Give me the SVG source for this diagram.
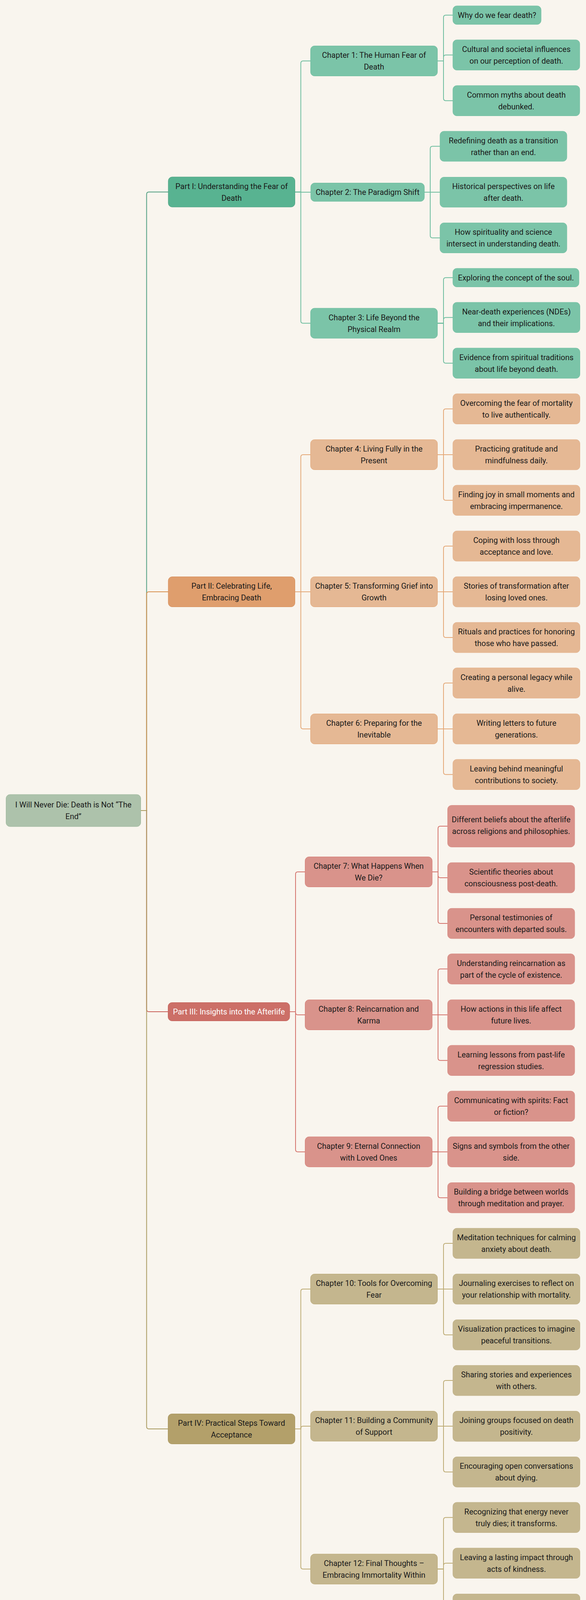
<svg xmlns="http://www.w3.org/2000/svg" width="1501" height="4203" viewBox="0 0 1501 4203">
<style>
.bg{fill:#f9f5ee}
rect.n{rx:10px;ry:10px;stroke-width:1}
.t{font-family:Roboto,"Liberation Sans",sans-serif;font-size:20px;fill:#1a1a1a;text-anchor:middle;dominant-baseline:central}
.tw{fill:#ffffff}
.root{fill:#adc2ab;stroke:#9db79a}
.p1{fill:#58b391;stroke:#4c9f80}
.c1{fill:#7bc4a8;stroke:#6cbb9c}
.l1{fill:#7bc4a8;stroke:#74c0a3}
.p2{fill:#df9e6d;stroke:#d48b57}
.c2{fill:#e5b894;stroke:#e2a574}
.l2{fill:#e5b894;stroke:#e3b18b}
.p3{fill:#cc6f67;stroke:#c35f58}
.c3{fill:#d9938b;stroke:#d47a72}
.l3{fill:#d9938b;stroke:#d78c84}
.p4{fill:#b3a06a;stroke:#a8955d}
.c4{fill:#c4b68e;stroke:#b9a874}
.l4{fill:#c4b68e;stroke:#bfb086}
path{fill:none;stroke-width:2}
.e1a{stroke:#4f9e80}.e1{stroke:#6dbd9e}
.e2a{stroke:#d8904f}.e2{stroke:#e4a877}
.e3a{stroke:#c9605a}.e3{stroke:#d4736c}
.e4a{stroke:#a99a5f}.e4{stroke:#bdab74}
</style>
<rect class="bg" x="0" y="0" width="1501" height="4203"/>
<g id="connectors">
<path class="e1a" d="M360.5 2075 H375.5 V497.5 Q375.5 491.5 381.5 491.5 H431"/>
<path class="e2a" d="M360.5 2075 H375.5 V1521 Q375.5 1515 381.5 1515 H431"/>
<path class="e3a" d="M360.5 2075 H375.5 V2584 Q375.5 2590 381.5 2590 H430.5"/>
<path class="e4a" d="M360.5 2075 H375.5 V3652 Q375.5 3658 381.5 3658 H430.5"/>
<path class="e1" d="M755.5 491.5 H770.5 V162 Q770.5 156 776.5 156 H795.5"/>
<path class="e1" d="M755.5 492 H796"/>
<path class="e1" d="M755.5 491.5 H770.5 V821.5 Q770.5 827.5 776.5 827.5 H795.5"/>
<path class="e1" d="M1120.5 156 H1136 V44.75 Q1136 38.75 1142 38.75 H1160"/>
<path class="e1" d="M1120.5 156 H1136 V146.75 Q1136 140.75 1142 140.75 H1160"/>
<path class="e1" d="M1120.5 156 H1136 V251.75 Q1136 257.75 1142 257.75 H1160"/>
<path class="e1" d="M1087 492 H1102 V380.5 Q1102 374.5 1108 374.5 H1127"/>
<path class="e1" d="M1087 492 H1127"/>
<path class="e1" d="M1087 492 H1102 V603 Q1102 609 1108 609 H1127"/>
<path class="e1" d="M1120.5 827.5 H1136 V716.75 Q1136 710.75 1142 710.75 H1160"/>
<path class="e1" d="M1120.5 827.5 H1136 V818.75 Q1136 812.75 1142 812.75 H1160"/>
<path class="e1" d="M1120.5 827.5 H1136 V923.75 Q1136 929.75 1142 929.75 H1160"/>
<path class="e2" d="M755.5 1515 H770.5 V1170 Q770.5 1164 776.5 1164 H795.5"/>
<path class="e2" d="M755.5 1515 H795.5"/>
<path class="e2" d="M755.5 1515 H770.5 V1860 Q770.5 1866 776.5 1866 H795.5"/>
<path class="e2" d="M1120.5 1164 H1136 V1052.75 Q1136 1046.75 1142 1046.75 H1160"/>
<path class="e2" d="M1120.5 1164 H1160"/>
<path class="e2" d="M1120.5 1164 H1136 V1274.75 Q1136 1280.75 1142 1280.75 H1160"/>
<path class="e2" d="M1120.5 1515 H1136 V1404 Q1136 1398 1142 1398 H1160"/>
<path class="e2" d="M1120.5 1515 H1160"/>
<path class="e2" d="M1120.5 1515 H1136 V1626 Q1136 1632 1142 1632 H1160"/>
<path class="e2" d="M1120.5 1866 H1136 V1754.5 Q1136 1748.5 1142 1748.5 H1160"/>
<path class="e2" d="M1120.5 1866 H1160"/>
<path class="e2" d="M1120.5 1866 H1136 V1976.75 Q1136 1982.75 1142 1982.75 H1160"/>
<path class="e3" d="M742 2590 H757 V2238 Q757 2232 763 2232 H781.5"/>
<path class="e3" d="M742 2590 H757 V2592 Q757 2598 763 2598 H781.5"/>
<path class="e3" d="M742 2590 H757 V2942.7 Q757 2948.7 763 2948.7 H781.5"/>
<path class="e3" d="M1107 2232 H1122 V2121 Q1122 2115 1128 2115 H1146.5"/>
<path class="e3" d="M1107 2232 H1122 V2241 Q1122 2247 1128 2247 H1146.5"/>
<path class="e3" d="M1107 2232 H1122 V2358 Q1122 2364 1128 2364 H1146.5"/>
<path class="e3" d="M1107 2598 H1122 V2486.5 Q1122 2480.5 1128 2480.5 H1146.5"/>
<path class="e3" d="M1107 2598 H1146.5"/>
<path class="e3" d="M1107 2598 H1122 V2708.75 Q1122 2714.75 1128 2714.75 H1146.5"/>
<path class="e3" d="M1107 2948.7 H1122 V2837.75 Q1122 2831.75 1128 2831.75 H1146.5"/>
<path class="e3" d="M1107 2948.7 H1146.5"/>
<path class="e3" d="M1107 2948.7 H1122 V3060.25 Q1122 3066.25 1128 3066.25 H1146.5"/>
<path class="e4" d="M755.5 3658 H770.5 V3306 Q770.5 3300 776.5 3300 H795.5"/>
<path class="e4" d="M755.5 3658 H770.5 V3657 Q770.5 3651 776.5 3651 H795.5"/>
<path class="e4" d="M755.5 3658 H770.5 V4010.8 Q770.5 4016.8 776.5 4016.8 H795.5"/>
<path class="e4" d="M1120.5 3300 H1136 V3189 Q1136 3183 1142 3183 H1160"/>
<path class="e4" d="M1120.5 3300 H1160"/>
<path class="e4" d="M1120.5 3300 H1136 V3411.25 Q1136 3417.25 1142 3417.25 H1160"/>
<path class="e4" d="M1120.5 3651 H1136 V3540 Q1136 3534 1142 3534 H1160"/>
<path class="e4" d="M1120.5 3651 H1160"/>
<path class="e4" d="M1120.5 3651 H1136 V3762.25 Q1136 3768.25 1142 3768.25 H1160"/>
<path class="e4" d="M1120.5 4016.8 H1136 V3890.75 Q1136 3884.75 1142 3884.75 H1160"/>
<path class="e4" d="M1120.5 4016.8 H1136 V4007.75 Q1136 4001.75 1142 4001.75 H1160"/>
<path class="e4" d="M1120.5 4016.8 H1136 V4128 Q1136 4134 1142 4134 H1160"/>
</g>
<g id="root"><rect class="n root" x="15.5" y="2034" width="345" height="82"/><text class="t" x="188" y="2060">I Will Never Die: Death is Not “The</text><text class="t" x="188" y="2090">End”</text></g>
<g id="part1"><rect class="n p1" x="431" y="453" width="324.5" height="77"/><text class="t" x="593.25" y="476.5">Part I: Understanding the Fear of</text><text class="t" x="593.25" y="506.5">Death</text></g>
<g id="ch1"><rect class="n c1" x="795.5" y="117.5" width="325" height="77"/><text class="t" x="958" y="141">Chapter 1: The Human Fear of</text><text class="t" x="958" y="171">Death</text></g>
<g id="l1a"><rect class="n l1" x="1160" y="15" width="226" height="47.5"/><text class="t" x="1273" y="38.75">Why do we fear death?</text></g>
<g id="l1b"><rect class="n l1" x="1160" y="102" width="325" height="77.5"/><text class="t" x="1322.5" y="125.75">Cultural and societal influences</text><text class="t" x="1322.5" y="155.75">on our perception of death.</text></g>
<g id="l1c"><rect class="n l1" x="1160" y="219" width="325" height="77.5"/><text class="t" x="1322.5" y="242.75">Common myths about death</text><text class="t" x="1322.5" y="272.75">debunked.</text></g>
<g id="ch2"><rect class="n c1" x="796" y="468.5" width="291" height="47"/><text class="t" x="941.5" y="492">Chapter 2: The Paradigm Shift</text></g>
<g id="l2a"><rect class="n l1" x="1127" y="336" width="325" height="77"/><text class="t" x="1289.5" y="359.5">Redefining death as a transition</text><text class="t" x="1289.5" y="389.5">rather than an end.</text></g>
<g id="l2b"><rect class="n l1" x="1127" y="453.5" width="325" height="77"/><text class="t" x="1289.5" y="477">Historical perspectives on life</text><text class="t" x="1289.5" y="507">after death.</text></g>
<g id="l2c"><rect class="n l1" x="1127" y="570.5" width="325" height="77"/><text class="t" x="1289.5" y="594">How spirituality and science</text><text class="t" x="1289.5" y="624">intersect in understanding death.</text></g>
<g id="ch3"><rect class="n c1" x="795.5" y="789" width="325" height="77"/><text class="t" x="958" y="812.5">Chapter 3: Life Beyond the</text><text class="t" x="958" y="842.5">Physical Realm</text></g>
<g id="l3a"><rect class="n l1" x="1160" y="687" width="323" height="47.5"/><text class="t" x="1321.5" y="710.75">Exploring the concept of the soul.</text></g>
<g id="l3b"><rect class="n l1" x="1160" y="774" width="325.5" height="77.5"/><text class="t" x="1322.75" y="797.75">Near-death experiences (NDEs)</text><text class="t" x="1322.75" y="827.75">and their implications.</text></g>
<g id="l3c"><rect class="n l1" x="1160" y="891" width="325.5" height="77.5"/><text class="t" x="1322.75" y="914.75">Evidence from spiritual traditions</text><text class="t" x="1322.75" y="944.75">about life beyond death.</text></g>
<g id="part2"><rect class="n p2" x="431" y="1476.5" width="324.5" height="77"/><text class="t" x="593.25" y="1500">Part II: Celebrating Life,</text><text class="t" x="593.25" y="1530">Embracing Death</text></g>
<g id="ch4"><rect class="n c2" x="795.5" y="1125.5" width="325" height="77"/><text class="t" x="958" y="1149">Chapter 4: Living Fully in the</text><text class="t" x="958" y="1179">Present</text></g>
<g id="l4a"><rect class="n l2" x="1160" y="1008" width="325.5" height="77.5"/><text class="t" x="1322.75" y="1031.75">Overcoming the fear of mortality</text><text class="t" x="1322.75" y="1061.75">to live authentically.</text></g>
<g id="l4b"><rect class="n l2" x="1160" y="1125.3" width="325.5" height="77.5"/><text class="t" x="1322.75" y="1149">Practicing gratitude and</text><text class="t" x="1322.75" y="1179">mindfulness daily.</text></g>
<g id="l4c"><rect class="n l2" x="1160" y="1242" width="325.5" height="77.5"/><text class="t" x="1322.75" y="1265.75">Finding joy in small moments and</text><text class="t" x="1322.75" y="1295.75">embracing impermanence.</text></g>
<g id="ch5"><rect class="n c2" x="795.5" y="1476.5" width="325" height="77"/><text class="t" x="958" y="1500">Chapter 5: Transforming Grief into</text><text class="t" x="958" y="1530">Growth</text></g>
<g id="l5a"><rect class="n l2" x="1160" y="1359.2" width="325.5" height="77.5"/><text class="t" x="1322.75" y="1383">Coping with loss through</text><text class="t" x="1322.75" y="1413">acceptance and love.</text></g>
<g id="l5b"><rect class="n l2" x="1160" y="1476.3" width="325.5" height="77.5"/><text class="t" x="1322.75" y="1500">Stories of transformation after</text><text class="t" x="1322.75" y="1530">losing loved ones.</text></g>
<g id="l5c"><rect class="n l2" x="1160" y="1593.3" width="325.5" height="77.5"/><text class="t" x="1322.75" y="1617">Rituals and practices for honoring</text><text class="t" x="1322.75" y="1647">those who have passed.</text></g>
<g id="ch6"><rect class="n c2" x="795.5" y="1827.5" width="325" height="77"/><text class="t" x="958" y="1851">Chapter 6: Preparing for the</text><text class="t" x="958" y="1881">Inevitable</text></g>
<g id="l6a"><rect class="n l2" x="1160" y="1709.8" width="325.5" height="77.5"/><text class="t" x="1322.75" y="1733.5">Creating a personal legacy while</text><text class="t" x="1322.75" y="1763.5">alive.</text></g>
<g id="l6b"><rect class="n l2" x="1160" y="1827.3" width="325.5" height="77.5"/><text class="t" x="1322.75" y="1851">Writing letters to future</text><text class="t" x="1322.75" y="1881">generations.</text></g>
<g id="l6c"><rect class="n l2" x="1160" y="1944" width="325.5" height="77.5"/><text class="t" x="1322.75" y="1967.75">Leaving behind meaningful</text><text class="t" x="1322.75" y="1997.75">contributions to society.</text></g>
<g id="part3"><rect class="n p3" x="430.5" y="2566.5" width="311.5" height="47"/><text class="t tw" x="586.25" y="2590">Part III: Insights into the Afterlife</text></g>
<g id="ch7"><rect class="n c3" x="781.5" y="2193.5" width="325.5" height="77"/><text class="t" x="944.25" y="2217">Chapter 7: What Happens When</text><text class="t" x="944.25" y="2247">We Die?</text></g>
<g id="l7a"><rect class="n l3" x="1146.5" y="2061.7" width="325.5" height="106.7"/><text class="t" x="1309.25" y="2098">Different beliefs about the afterlife</text><text class="t" x="1309.25" y="2128">across religions and philosophies.</text></g>
<g id="l7b"><rect class="n l3" x="1146.5" y="2208.3" width="325.5" height="77.5"/><text class="t" x="1309.25" y="2232">Scientific theories about</text><text class="t" x="1309.25" y="2262">consciousness post-death.</text></g>
<g id="l7c"><rect class="n l3" x="1146.5" y="2325.3" width="325.5" height="77.5"/><text class="t" x="1309.25" y="2349">Personal testimonies of</text><text class="t" x="1309.25" y="2379">encounters with departed souls.</text></g>
<g id="ch8"><rect class="n c3" x="781.5" y="2559.5" width="325.5" height="77"/><text class="t" x="944.25" y="2583">Chapter 8: Reincarnation and</text><text class="t" x="944.25" y="2613">Karma</text></g>
<g id="l8a"><rect class="n l3" x="1146.5" y="2441.8" width="325.5" height="77.5"/><text class="t" x="1309.25" y="2465.5">Understanding reincarnation as</text><text class="t" x="1309.25" y="2495.5">part of the cycle of existence.</text></g>
<g id="l8b"><rect class="n l3" x="1146.5" y="2559.3" width="325.5" height="77.5"/><text class="t" x="1309.25" y="2583">How actions in this life affect</text><text class="t" x="1309.25" y="2613">future lives.</text></g>
<g id="l8c"><rect class="n l3" x="1146.5" y="2676" width="325.5" height="77.5"/><text class="t" x="1309.25" y="2699.75">Learning lessons from past-life</text><text class="t" x="1309.25" y="2729.75">regression studies.</text></g>
<g id="ch9"><rect class="n c3" x="781.5" y="2910.2" width="325.5" height="77"/><text class="t" x="944.25" y="2933.7">Chapter 9: Eternal Connection</text><text class="t" x="944.25" y="2963.7">with Loved Ones</text></g>
<g id="l9a"><rect class="n l3" x="1146.5" y="2793" width="325.5" height="77.5"/><text class="t" x="1309.25" y="2816.75">Communicating with spirits: Fact</text><text class="t" x="1309.25" y="2846.75">or fiction?</text></g>
<g id="l9b"><rect class="n l3" x="1146.5" y="2910" width="325.5" height="77.5"/><text class="t" x="1309.25" y="2933.75">Signs and symbols from the other</text><text class="t" x="1309.25" y="2963.75">side.</text></g>
<g id="l9c"><rect class="n l3" x="1146.5" y="3027.5" width="325.5" height="77.5"/><text class="t" x="1309.25" y="3051.25">Building a bridge between worlds</text><text class="t" x="1309.25" y="3081.25">through meditation and prayer.</text></g>
<g id="part4"><rect class="n p4" x="430.5" y="3619.5" width="325" height="77"/><text class="t" x="593" y="3643">Part IV: Practical Steps Toward</text><text class="t" x="593" y="3673">Acceptance</text></g>
<g id="ch10"><rect class="n c4" x="795.5" y="3261.5" width="325" height="77"/><text class="t" x="958" y="3285">Chapter 10: Tools for Overcoming</text><text class="t" x="958" y="3315">Fear</text></g>
<g id="l10a"><rect class="n l4" x="1160" y="3144.3" width="325.5" height="77.5"/><text class="t" x="1322.75" y="3168">Meditation techniques for calming</text><text class="t" x="1322.75" y="3198">anxiety about death.</text></g>
<g id="l10b"><rect class="n l4" x="1160" y="3261.3" width="325.5" height="77.5"/><text class="t" x="1322.75" y="3285">Journaling exercises to reflect on</text><text class="t" x="1322.75" y="3315">your relationship with mortality.</text></g>
<g id="l10c"><rect class="n l4" x="1160" y="3378.5" width="325.5" height="77.5"/><text class="t" x="1322.75" y="3402.25">Visualization practices to imagine</text><text class="t" x="1322.75" y="3432.25">peaceful transitions.</text></g>
<g id="ch11"><rect class="n c4" x="795.5" y="3612.5" width="325" height="77"/><text class="t" x="958" y="3636">Chapter 11: Building a Community</text><text class="t" x="958" y="3666">of Support</text></g>
<g id="l11a"><rect class="n l4" x="1160" y="3495.3" width="325.5" height="77.5"/><text class="t" x="1322.75" y="3519">Sharing stories and experiences</text><text class="t" x="1322.75" y="3549">with others.</text></g>
<g id="l11b"><rect class="n l4" x="1160" y="3612.5" width="325.5" height="77.5"/><text class="t" x="1322.75" y="3636.25">Joining groups focused on death</text><text class="t" x="1322.75" y="3666.25">positivity.</text></g>
<g id="l11c"><rect class="n l4" x="1160" y="3729.5" width="325.5" height="77.5"/><text class="t" x="1322.75" y="3753.25">Encouraging open conversations</text><text class="t" x="1322.75" y="3783.25">about dying.</text></g>
<g id="ch12"><rect class="n c4" x="795.5" y="3978.3" width="325" height="77"/><text class="t" x="958" y="4001.8">Chapter 12: Final Thoughts –</text><text class="t" x="958" y="4031.8">Embracing Immortality Within</text></g>
<g id="l12a"><rect class="n l4" x="1160" y="3846" width="325.5" height="77.5"/><text class="t" x="1322.75" y="3869.75">Recognizing that energy never</text><text class="t" x="1322.75" y="3899.75">truly dies; it transforms.</text></g>
<g id="l12b"><rect class="n l4" x="1160" y="3963" width="325.5" height="77.5"/><text class="t" x="1322.75" y="3986.75">Leaving a lasting impact through</text><text class="t" x="1322.75" y="4016.75">acts of kindness.</text></g>
<g id="l12c"><rect class="n l4" x="1160" y="4080.6" width="325.5" height="106.7"/><text class="t" x="1322.75" y="4104">Finding peace in knowing that</text><text class="t" x="1322.75" y="4134">death is just another chapter in</text><text class="t" x="1322.75" y="4164">the journey of existence.</text></g>
</svg>
